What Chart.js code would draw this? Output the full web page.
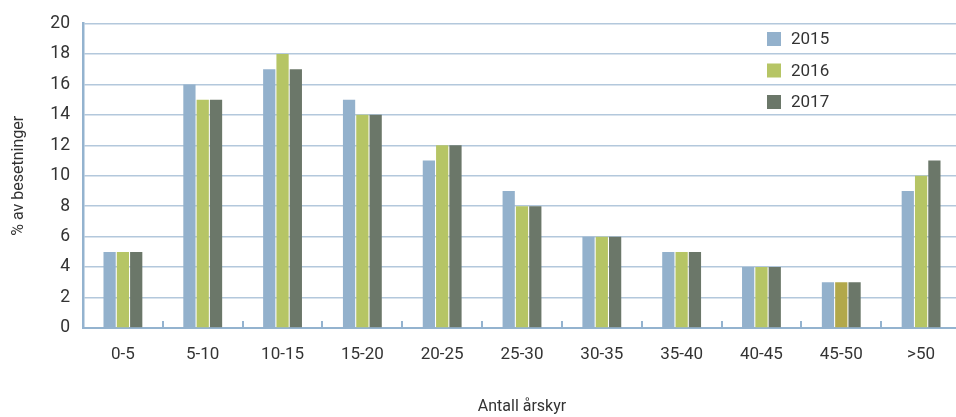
<!DOCTYPE html>
<html>
<head>
<meta charset="utf-8">
<script src="https://cdn.jsdelivr.net/npm/chart.js@4.4.1/dist/chart.umd.min.js"></script>
<style>
  html, body { margin: 0; padding: 0; background: #fff; overflow: hidden; }
  #wrap { width: 956px; height: 417px; overflow: hidden; }
  #box { width: 961px; height: 417px; }
</style>
</head>
<body>
<div id="wrap"><div id="box"><canvas id="chart"></canvas></div></div>
<script>
const kategorier = ['0-5', '5-10', '10-15', '15-20', '20-25', '25-30', '30-35', '35-40', '40-45', '45-50', '>50'];
const verdier2015 = [5, 16, 17, 15, 11, 9, 6, 5, 4, 3, 9];
const verdier2016 = [5, 15, 18, 14, 12, 8, 6, 5, 4, 3, 10];
const verdier2017 = [5, 15, 17, 14, 12, 8, 6, 5, 4, 3, 11];
const aarstall = ['2015', '2016', '2017'];

const tekstFarge = '#333333';
const aksefarge = '#94b3cf';
const gridFarge = '#b3c8dc';
const farger = ['#93b1cc', '#b6c565', '#6b7769'];
// 45-50 for 2016 is drawn in a darker olive in the original
const farger2016 = verdier2016.map((v, i) => (kategorier[i] === '45-50' ? '#b2a84b' : farger[1]));

// small upward ticks between the categories + legend box at top right
const ekstra = {
  id: 'ekstra',
  afterDatasetsDraw(chart) {
    const { ctx, scales: { x }, chartArea } = chart;
    ctx.save();
    ctx.strokeStyle = aksefarge;
    ctx.lineWidth = 2;
    const halv = (x.getPixelForTick(1) - x.getPixelForTick(0)) / 2;
    for (let i = 0; i < kategorier.length - 1; i++) {
      const px = Math.round(x.getPixelForTick(i) + halv);
      ctx.beginPath();
      ctx.moveTo(px, chartArea.bottom);
      ctx.lineTo(px, chartArea.bottom - 7);
      ctx.stroke();
    }
    ctx.font = '17px Roboto';
    ctx.textBaseline = 'middle';
    ctx.fillStyle = tekstFarge;
    chart.data.datasets.forEach((ds, i) => {
      const y = 39 + i * 31.5;
      ctx.fillStyle = farger[i];
      ctx.fillRect(767, y - 7, 14, 14);
      ctx.fillStyle = tekstFarge;
      ctx.fillText(ds.label, 791, y + 1);
    });
    ctx.restore();
  }
};

new Chart(document.getElementById('chart'), {
  type: 'bar',
  data: {
    labels: kategorier,
    datasets: [
      { label: aarstall[0], data: verdier2015, backgroundColor: farger[0] },
      { label: aarstall[1], data: verdier2016, backgroundColor: farger2016 },
      { label: aarstall[2], data: verdier2017, backgroundColor: farger[2] }
    ]
  },
  options: {
    responsive: true,
    maintainAspectRatio: false,
    animation: false,
    layout: { padding: { top: 21, right: 0, left: 0, bottom: 0 } },
    datasets: { bar: { categoryPercentage: 0.5, barPercentage: 0.92 } },
    plugins: { legend: { display: false }, tooltip: { enabled: false } },
    scales: {
      x: {
        grid: { display: false, drawTicks: false },
        border: { color: aksefarge, width: 2 },
        ticks: { color: tekstFarge, font: { family: 'Roboto', size: 17 }, padding: 17, maxRotation: 0 },
        title: { display: true, text: 'Antall årskyr', color: tekstFarge, font: { family: 'Roboto', size: 16 }, padding: { top: 0, bottom: 0 } },
        afterFit: (s) => { s.height = 89; }
      },
      y: {
        min: 0,
        max: 20,
        ticks: { stepSize: 2, color: tekstFarge, font: { family: 'Roboto', size: 17.5 }, padding: 13 },
        grid: { color: gridFarge, lineWidth: 1.5, drawTicks: false },
        border: { color: aksefarge, width: 2.5 },
        title: { display: true, text: '% av besetninger', color: tekstFarge, font: { family: 'Roboto', size: 16 }, padding: { top: 9, bottom: 0 } },
        afterFit: (s) => { s.width = 83; }
      }
    }
  },
  plugins: [ekstra]
});
</script>
</body>
</html>
